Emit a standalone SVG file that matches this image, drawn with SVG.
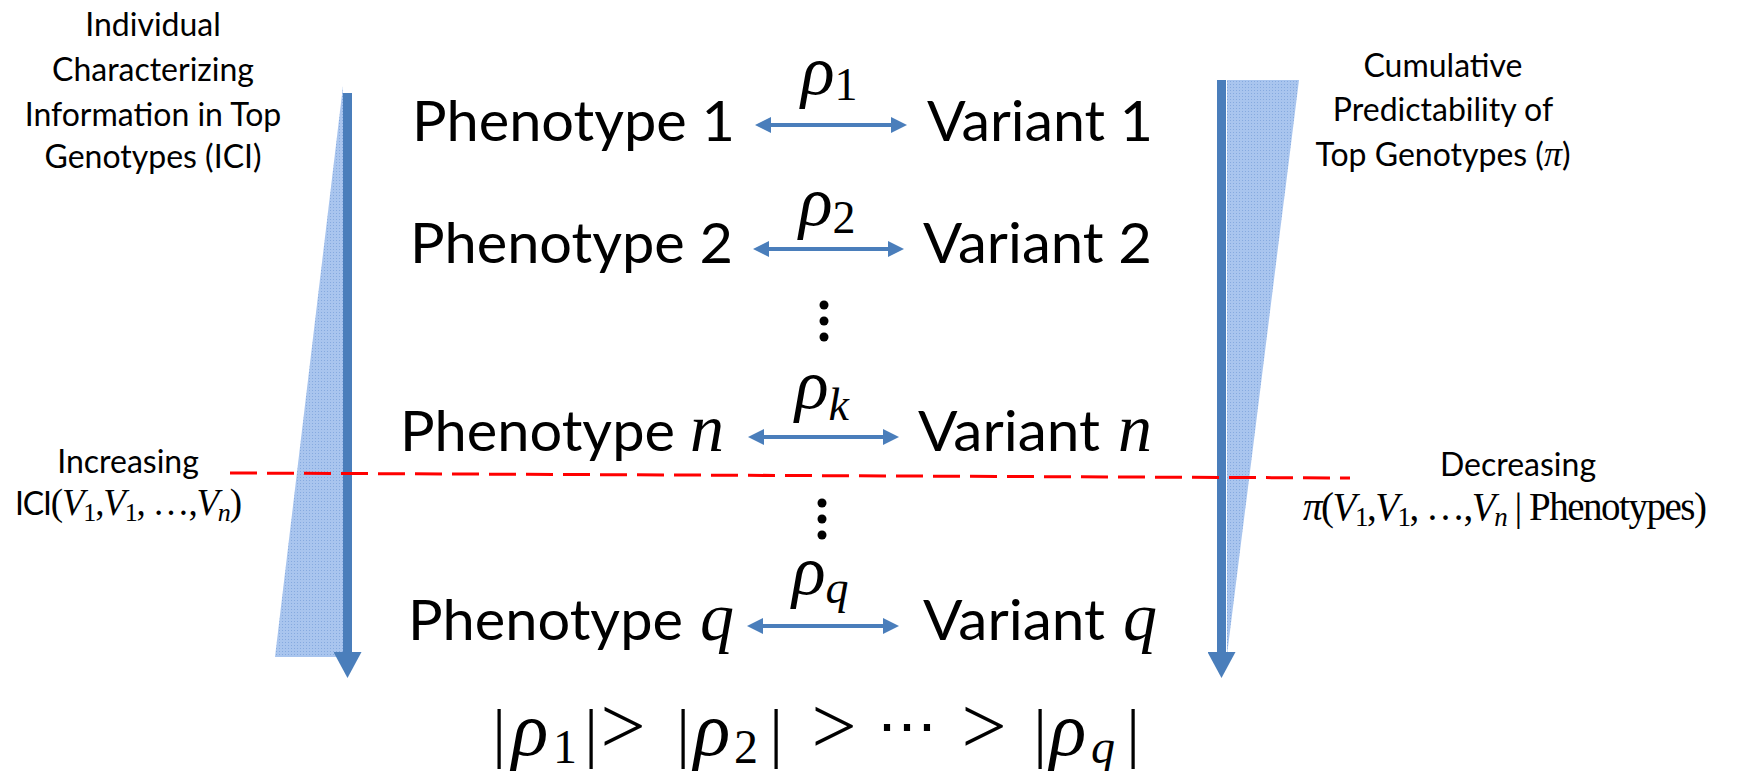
<svg xmlns="http://www.w3.org/2000/svg" width="1744" height="771" viewBox="0 0 1744 771">
<style>
.lbl{font-family:Lato,"Open Sans",sans-serif;fill:#000}
.big{font-size:57px}
.side{font-size:32px}
.m{font-family:"Liberation Serif",serif;font-style:italic}
.mu{font-family:"Liberation Serif",serif;font-style:normal}
.conn{stroke:#4a7ebb;stroke-width:4;fill:none}
.shaft{stroke:#4a7ebb;stroke-width:9;fill:none}
.wedge{fill:url(#dots)}
.cut{stroke:#ff0000;stroke-width:3;stroke-dasharray:27 10;fill:none}
</style>
<defs>
<pattern id="dots" width="3" height="3" patternUnits="userSpaceOnUse"><rect width="3" height="3" fill="#a9c5ee"/><rect width="1" height="1" fill="#86aadf"/></pattern>
<marker id="ah" markerUnits="userSpaceOnUse" markerWidth="16" markerHeight="16" refX="8" refY="8" orient="auto-start-reverse"><path d="M0,0 L16,8 L0,16 z" fill="#4a7ebb"/></marker>
<marker id="bh" markerUnits="userSpaceOnUse" markerWidth="26" markerHeight="28" refX="4" refY="14" orient="auto"><path d="M0,0 L26,14 L0,28 z" fill="#4a7ebb"/></marker>
</defs>
<g id="left-scale">
<polygon class="wedge" points="343,86 343,657 275,657"/>
<line class="shaft" x1="347.5" y1="93" x2="347.5" y2="656" marker-end="url(#bh)"/>
</g>
<g id="right-scale">
<polygon class="wedge" points="1227,80 1299,80 1227,655"/>
<line class="shaft" x1="1221.5" y1="80" x2="1221.5" y2="656" marker-end="url(#bh)"/>
</g>
<g id="label-ici" class="lbl side" text-anchor="middle">
<text x="153" y="36">Individual</text>
<text x="153" y="81">Characterizing</text>
<text x="153" y="126">Information in Top</text>
<text x="153" y="168">Genotypes (ICI)</text>
</g>
<g id="label-pi" class="lbl side" text-anchor="middle">
<text x="1443" y="77">Cumulative</text>
<text x="1443" y="121">Predictability of</text>
<text x="1443" y="166">Top Genotypes (<tspan class="m" font-size="36">π</tspan>)</text>
</g>
<g id="label-increasing">
<text class="lbl side" x="128" y="473" text-anchor="middle">Increasing</text>
<text x="15" y="515" font-size="37" textLength="227" lengthAdjust="spacing"><tspan class="lbl side">ICI</tspan><tspan class="mu">(</tspan><tspan class="m">V</tspan><tspan class="mu" font-size="26" dy="6">1</tspan><tspan class="mu" dy="-6">,</tspan><tspan class="m">V</tspan><tspan class="mu" font-size="26" dy="6">1</tspan><tspan class="mu" dy="-6">, …,</tspan><tspan class="m">V</tspan><tspan class="m" font-size="26" dy="6">n</tspan><tspan class="mu" dy="-6">)</tspan></text>
</g>
<g id="label-decreasing">
<text class="lbl side" x="1518" y="476" text-anchor="middle">Decreasing</text>
<text x="1303" y="520" font-size="39" textLength="404" lengthAdjust="spacing"><tspan class="m">π</tspan><tspan class="mu">(</tspan><tspan class="m">V</tspan><tspan class="mu" font-size="27" dy="6">1</tspan><tspan class="mu" dy="-6">,</tspan><tspan class="m">V</tspan><tspan class="mu" font-size="27" dy="6">1</tspan><tspan class="mu" dy="-6">, …,</tspan><tspan class="m">V</tspan><tspan class="m" font-size="27" dy="6">n</tspan><tspan class="mu" dy="-6"> | Phenotypes)</tspan></text>
</g>
<g id="phenotype-1"><text class="lbl big" x="412" y="141" textLength="323" lengthAdjust="spacingAndGlyphs">Phenotype 1</text></g>
<g id="variant-1"><text class="lbl big" x="927" y="141" textLength="226" lengthAdjust="spacingAndGlyphs">Variant 1</text></g>
<g id="phenotype-2"><text class="lbl big" x="410" y="263" textLength="323" lengthAdjust="spacingAndGlyphs">Phenotype 2</text></g>
<g id="variant-2"><text class="lbl big" x="923" y="263" textLength="229" lengthAdjust="spacingAndGlyphs">Variant 2</text></g>
<g id="phenotype-n"><text class="lbl big" x="400" y="451" textLength="275" lengthAdjust="spacingAndGlyphs">Phenotype</text><text class="m" x="690" y="451" font-size="68">n</text></g>
<g id="variant-n"><text class="lbl big" x="918" y="451" textLength="182" lengthAdjust="spacingAndGlyphs">Variant</text><text class="m" x="1118" y="451" font-size="68">n</text></g>
<g id="phenotype-q"><text class="lbl big" x="408" y="640" textLength="275" lengthAdjust="spacingAndGlyphs">Phenotype</text><text class="m" x="700" y="640" font-size="68">q</text></g>
<g id="variant-q"><text class="lbl big" x="923" y="640" textLength="182" lengthAdjust="spacingAndGlyphs">Variant</text><text class="m" x="1123" y="640" font-size="68">q</text></g>
<g id="rho-labels">
<text x="801" y="94"><tspan class="m" font-size="70">ρ</tspan><tspan class="mu" font-size="46" dy="6">1</tspan></text>
<text x="799" y="225"><tspan class="m" font-size="70">ρ</tspan><tspan class="mu" font-size="46" dy="8">2</tspan></text>
<text x="795" y="408"><tspan class="m" font-size="70">ρ</tspan><tspan class="m" font-size="46" dy="12">k</tspan></text>
<text x="792" y="594"><tspan class="m" font-size="70">ρ</tspan><tspan class="m" font-size="46" dy="9">q</tspan></text>
</g>
<g id="ellipses" fill="#000">
<circle cx="824" cy="305" r="4.5"/><circle cx="824" cy="321" r="4.5"/><circle cx="824" cy="337" r="4.5"/>
<circle cx="822" cy="503" r="4.5"/><circle cx="822" cy="519" r="4.5"/><circle cx="822" cy="535" r="4.5"/>
</g>
<g id="connectors">
<line class="conn" x1="763" y1="125" x2="899" y2="125" marker-start="url(#ah)" marker-end="url(#ah)"/>
<line class="conn" x1="761" y1="249" x2="896" y2="249" marker-start="url(#ah)" marker-end="url(#ah)"/>
<line class="conn" x1="756" y1="437" x2="891" y2="437" marker-start="url(#ah)" marker-end="url(#ah)"/>
<line class="conn" x1="755" y1="626" x2="891" y2="626" marker-start="url(#ah)" marker-end="url(#ah)"/>
</g>
<g id="ordering">
<text class="mu" font-size="66" text-anchor="middle"><tspan x="499" y="755">|</tspan><tspan class="m" font-size="76" x="530" y="755">ρ</tspan><tspan font-size="48" x="565" y="763">1</tspan><tspan x="591" y="755">|</tspan><tspan font-size="80" x="623" y="753">&gt;</tspan><tspan x="683" y="755">|</tspan><tspan class="m" font-size="76" x="712" y="755">ρ</tspan><tspan font-size="48" x="746" y="763">2</tspan><tspan x="776" y="755">|</tspan><tspan font-size="80" x="834" y="753">&gt;</tspan><tspan font-family="DejaVu Serif" font-size="60" x="907" y="747">⋯</tspan><tspan font-size="80" x="984" y="753">&gt;</tspan><tspan x="1040" y="755">|</tspan><tspan class="m" font-size="76" x="1068" y="755">ρ</tspan><tspan class="m" font-size="48" x="1103" y="763">q</tspan><tspan x="1133" y="755">|</tspan></text>
</g>
<g id="threshold">
<line class="cut" x1="230" y1="473" x2="1350" y2="478"/>
</g>
</svg>
